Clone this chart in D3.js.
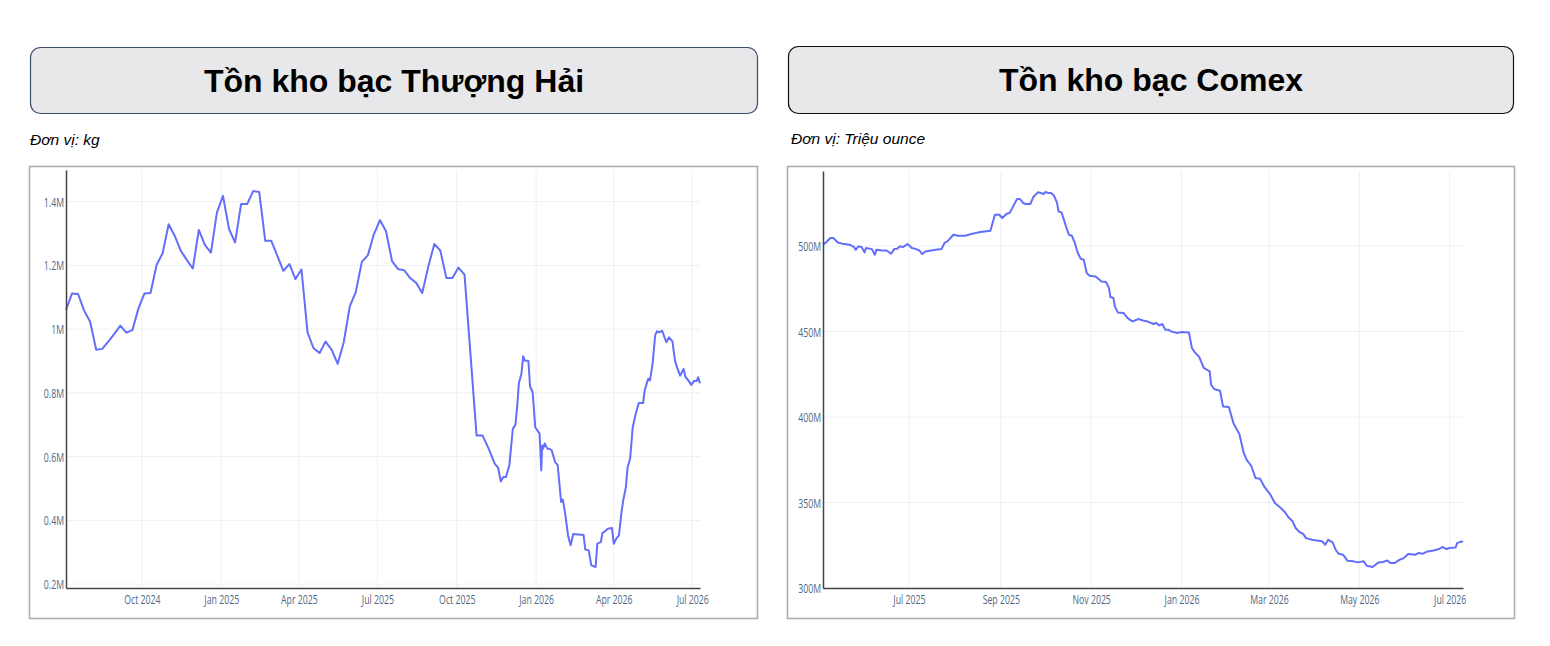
<!DOCTYPE html>
<html><head><meta charset="utf-8">
<script src="https://cdn.jsdelivr.net/npm/d3@7"></script>
<style>
html,body{margin:0;padding:0;background:#fff;}
svg{display:block;}
</style></head><body>
<svg id="c" width="1550" height="646"></svg>
<script>
// ---------------- DATA ----------------
const shTitle = "Tồn kho bạc Thượng Hải";
const shUnit = "Đơn vị: kg";
const shDates = [
"2024-07-05","2024-07-12","2024-07-19","2024-07-26","2024-08-02","2024-08-09","2024-08-16","2024-08-23","2024-08-30",
"2024-09-06","2024-09-13","2024-09-20","2024-09-27","2024-10-04","2024-10-11","2024-10-18","2024-10-25","2024-11-01",
"2024-11-08","2024-11-15","2024-11-22","2024-11-29","2024-12-06","2024-12-13","2024-12-20","2024-12-27","2025-01-03",
"2025-01-10","2025-01-17","2025-01-24","2025-01-31","2025-02-07","2025-02-14","2025-02-21","2025-02-28","2025-03-07",
"2025-03-14","2025-03-21","2025-03-28","2025-04-04","2025-04-11","2025-04-18","2025-04-25","2025-05-02","2025-05-09",
"2025-05-16","2025-05-23","2025-05-30","2025-06-06","2025-06-13","2025-06-20","2025-06-27","2025-07-04","2025-07-11",
"2025-07-18","2025-07-25","2025-08-01","2025-08-08","2025-08-15","2025-08-22","2025-08-29","2025-09-05","2025-09-12",
"2025-09-19","2025-09-26","2025-10-03","2025-10-10",
"2025-10-24","2025-10-31","2025-11-07","2025-11-14","2025-11-18","2025-11-21","2025-11-24","2025-11-27","2025-12-01",
"2025-12-05","2025-12-08","2025-12-10","2025-12-12","2025-12-15","2025-12-17","2025-12-19","2025-12-23","2025-12-25",
"2025-12-28","2025-12-31","2026-01-05","2026-01-07","2026-01-08","2026-01-09","2026-01-11","2026-01-14","2026-01-16",
"2026-01-19","2026-01-23","2026-01-26","2026-01-30","2026-02-01","2026-02-04","2026-02-07","2026-02-10","2026-02-13",
"2026-02-25","2026-02-27","2026-03-03","2026-03-06","2026-03-11","2026-03-13","2026-03-17","2026-03-19","2026-03-21",
"2026-03-25","2026-03-30","2026-04-01","2026-04-04","2026-04-07","2026-04-10","2026-04-12","2026-04-15","2026-04-17",
"2026-04-20","2026-04-23","2026-04-26","2026-04-30","2026-05-05","2026-05-07","2026-05-11","2026-05-13","2026-05-16",
"2026-05-19","2026-05-21","2026-05-24","2026-05-27","2026-06-01","2026-06-04","2026-06-08","2026-06-11","2026-06-14",
"2026-06-17","2026-06-21","2026-06-23","2026-06-27","2026-06-30","2026-07-03","2026-07-06","2026-07-08","2026-07-10"
];
const shValues = [
1060000,1112000,1110000,1058000,1023000,935000,938000,961000,985000,
1011000,989000,997000,1065000,1112000,1113000,1201000,1238000,1329000,
1293000,1246000,1217000,1190000,1311000,1264000,1240000,1366000,1418000,
1314000,1272000,1392000,1392000,1433000,1430000,1277000,1277000,1230000,
1183000,1204000,1157000,1187000,990000,940000,925000,961000,935000,
891000,959000,1071000,1117000,1211000,1232000,1298000,1342000,1307000,
1213000,1188000,1185000,1160000,1145000,1113000,1196000,1267000,1246000,
1160000,1160000,1193000,1171000,
666000,666000,625000,578000,565000,522000,536000,536000,573000,
687000,700000,755000,830000,860000,915000,901000,901000,820000,
802000,692000,672000,557000,635000,625000,641000,625000,625000,
620000,583000,573000,458000,465000,416000,353000,322000,357000,
354000,309000,306000,259000,254000,327000,332000,361000,364000,
374000,376000,327000,343000,353000,426000,463000,503000,565000,
594000,692000,729000,768000,768000,810000,844000,839000,891000,
980000,993000,990000,995000,959000,974000,962000,901000,875000,
854000,875000,851000,837000,825000,837000,837000,849000,830000
];
const shXTicks = ["2024-10-01","2025-01-01","2025-04-01","2025-07-01","2025-10-01","2026-01-01","2026-04-01","2026-07-01"];
const shXTickLabels = ["Oct 2024","Jan 2025","Apr 2025","Jul 2025","Oct 2025","Jan 2026","Apr 2026","Jul 2026"];
const shYTicks = [200000,400000,600000,800000,1000000,1200000,1400000];
const shYTickLabels = ["0.2M","0.4M","0.6M","0.8M","1M","1.2M","1.4M"];

const cmTitle = "Tồn kho bạc Comex";
const cmUnit = "Đơn vị: Triệu ounce";
const cmDates = [
"2025-05-04","2025-05-06","2025-05-09","2025-05-11","2025-05-14","2025-05-17","2025-05-22","2025-05-25","2025-05-26",
"2025-05-28","2025-05-30","2025-06-01","2025-06-02","2025-06-06","2025-06-08","2025-06-09","2025-06-13","2025-06-16",
"2025-06-19","2025-06-21","2025-06-23","2025-06-25","2025-06-27","2025-06-30","2025-07-03","2025-07-06","2025-07-08",
"2025-07-10","2025-07-12","2025-07-16","2025-07-19","2025-07-23","2025-07-25","2025-07-27","2025-07-31","2025-08-03",
"2025-08-08","2025-08-12","2025-08-17","2025-08-21","2025-08-25","2025-08-28","2025-08-31","2025-09-02","2025-09-05",
"2025-09-07","2025-09-09","2025-09-12","2025-09-14","2025-09-16","2025-09-18","2025-09-21","2025-09-23","2025-09-26",
"2025-09-28","2025-09-30","2025-10-01","2025-10-03","2025-10-05","2025-10-07","2025-10-09","2025-10-10","2025-10-12",
"2025-10-14","2025-10-15","2025-10-17","2025-10-19","2025-10-21","2025-10-23","2025-10-25","2025-10-27","2025-10-29",
"2025-10-31","2025-11-04","2025-11-06","2025-11-08","2025-11-11","2025-11-13","2025-11-14","2025-11-16","2025-11-17",
"2025-11-19","2025-11-23","2025-11-25","2025-11-27","2025-11-29","2025-12-03","2025-12-06","2025-12-09","2025-12-13",
"2025-12-15","2025-12-17","2025-12-19","2025-12-21","2025-12-23","2025-12-25","2025-12-29","2026-01-01","2026-01-06",
"2026-01-08","2026-01-10","2026-01-13","2026-01-16","2026-01-20","2026-01-21","2026-01-23","2026-01-27","2026-01-29",
"2026-02-02","2026-02-05","2026-02-08","2026-02-09","2026-02-12","2026-02-14","2026-02-17","2026-02-20","2026-02-23",
"2026-02-26","2026-03-02","2026-03-05","2026-03-09","2026-03-12","2026-03-14","2026-03-17","2026-03-19","2026-03-22",
"2026-03-24","2026-03-26","2026-03-30","2026-04-02","2026-04-06","2026-04-08","2026-04-10","2026-04-13","2026-04-15",
"2026-04-17","2026-04-20","2026-04-23","2026-04-27","2026-04-30","2026-05-04","2026-05-06","2026-05-10","2026-05-14",
"2026-05-17","2026-05-20","2026-05-22","2026-05-25","2026-05-28","2026-05-31","2026-06-03","2026-06-08","2026-06-10",
"2026-06-13","2026-06-16","2026-06-20","2026-06-24","2026-06-26","2026-06-29","2026-07-01","2026-07-05","2026-07-06",
"2026-07-09","2026-07-10"
];
const cmValues = [
500.8,502.1,504.7,504.7,502.1,501.4,500.8,499.4,497.8,
499.8,499.4,496.3,498.8,498.2,494.9,497.8,497.4,497.4,
495.5,498.2,498.4,499.8,499.4,501.2,498.8,498.2,497.4,
495.3,496.8,497.4,497.8,498.2,501.8,502.7,506.6,506.0,
506.0,507.0,508.0,508.5,509.0,518.3,518.3,516.4,518.9,
519.3,522.6,527.5,527.5,525.2,524.6,524.6,528.7,531.4,
531.0,530.4,531.6,531.0,531.0,529.4,525.2,520.2,519.7,
514.4,511.5,506.6,506.0,501.8,495.9,492.6,492.0,484.2,
482.6,482.2,480.7,479.3,479.0,475.5,470.2,469.6,464.7,
461.2,460.8,458.5,456.9,455.9,457.3,456.5,455.9,454.4,
455.0,453.6,454.4,451.1,451.1,450.1,449.1,449.7,449.5,
440.4,437.8,435.1,428.7,426.7,418.9,416.4,415.4,406.2,
405.8,396.5,391.6,390.2,379.0,375.0,371.5,364.3,363.9,
359.1,354.6,349.7,346.8,344.2,341.5,339.0,335.1,332.5,
331.8,329.2,328.2,327.8,327.3,325.3,328.2,326.7,322.4,
320.1,319.5,316.0,315.6,315.0,315.6,313.0,312.3,315.0,
315.2,316.1,314.6,314.6,316.5,317.5,319.9,319.5,320.5,
320.1,321.4,322.0,322.8,324.0,322.8,323.4,323.7,326.3,
327.3,326.9
];
const cmXTicks = ["2025-07-01","2025-09-01","2025-11-01","2026-01-01","2026-03-01","2026-05-01","2026-07-01"];
const cmXTickLabels = ["Jul 2025","Sep 2025","Nov 2025","Jan 2026","Mar 2026","May 2026","Jul 2026"];
const cmYTicks = [300,350,400,450,500];
const cmYTickLabels = ["300M","350M","400M","450M","500M"];

// ---------------- DRAW ----------------
const svg = d3.select("#c");
svg.append("rect").attr("width",1550).attr("height",646).attr("fill","#fff");
const parse = d3.utcParse("%Y-%m-%d");
const SX = 0.7; // horizontal squeeze of the tick labels

function panel(o){
  // title box
  svg.append("rect").attr("x",o.box[0]+0.5).attr("y",o.box[1]+0.5)
    .attr("width",o.box[2]).attr("height",o.box[3]).attr("rx",10).attr("ry",10)
    .attr("fill","#e8e7e9").attr("stroke",o.boxStroke).attr("stroke-width",1.2);
  svg.append("text").attr("x",o.box[0]+o.box[2]/2+0.5).attr("y",o.box[1]+o.box[3]/2+11.5)
    .attr("text-anchor","middle").attr("font-family","Liberation Sans, Arial, sans-serif")
    .attr("font-weight","bold").attr("font-size",32).attr("fill","#000").text(o.title);
  // unit
  svg.append("text").attr("x",o.unitPos[0]).attr("y",o.unitPos[1])
    .attr("font-family","Liberation Sans, Arial, sans-serif").attr("font-style","italic")
    .attr("font-size",15.5).attr("fill","#000").text(o.unit);
  // frame
  svg.append("rect").attr("x",o.frame[0]+0.5).attr("y",o.frame[1]+0.5)
    .attr("width",o.frame[2]).attr("height",o.frame[3])
    .attr("fill","#fff").attr("stroke","#a9a9a9").attr("stroke-width",1.5);

  const [x0,y0,x1,y1] = o.plot;
  const dates = o.dates.map(parse);
  const x = d3.scaleUtc().domain(d3.extent(dates)).range([x0,x1]);
  const [mn,mx] = d3.extent(o.values);
  const pad = (mx-mn)*0.056;
  const y = d3.scaleLinear().domain([mn-pad,mx+pad]).range([y1,y0]);

  const g = svg.append("g");
  // grid
  g.selectAll(".gx").data(o.xTicks.map(parse)).join("line")
    .attr("x1",d=>x(d)).attr("x2",d=>x(d)).attr("y1",y0).attr("y2",y1)
    .attr("stroke","#ebf0f8").attr("stroke-width",1);
  g.selectAll(".gy").data(o.yTicks).join("line")
    .attr("x1",x0).attr("x2",x1).attr("y1",d=>y(d)).attr("y2",d=>y(d))
    .attr("stroke","#ebf0f8").attr("stroke-width",1);

  // line
  const line = d3.line().x((d,i)=>x(dates[i])).y(d=>y(d));
  g.append("path").datum(o.values).attr("d",line)
    .attr("fill","none").attr("stroke","#636efa").attr("stroke-width",2)
    .attr("stroke-linejoin","round");

  // axes
  const xl = new Map(o.xTicks.map((t,i)=>[+parse(t),o.xTickLabels[i]]));
  const ax = svg.append("g").attr("transform",`translate(0,${y1})`)
    .call(d3.axisBottom(x).tickValues(o.xTicks.map(parse)).tickSize(0).tickSizeOuter(0)
      .tickFormat(d=>xl.get(+d)));
  const yl = new Map(o.yTicks.map((t,i)=>[t,o.yTickLabels[i]]));
  const ay = svg.append("g").attr("transform",`translate(${x0},0)`)
    .call(d3.axisLeft(y).tickValues(o.yTicks).tickSize(0).tickSizeOuter(0)
      .tickFormat(d=>yl.get(d)));
  [ax,ay].forEach(a=>{
    a.select(".domain").attr("stroke","#444").attr("stroke-width",1.5);
    a.selectAll("text").attr("font-family","Open Sans, sans-serif").attr("font-size",12.5)
      .attr("fill","#506784");
  });
  ax.selectAll("text").attr("y",16.3).attr("dy",0).attr("transform",`scale(${SX},1)`);
  ay.selectAll("text").attr("x",-2/SX).attr("dy","0.36em").attr("transform",`scale(${SX},1)`);
}

panel({title:shTitle, unit:shUnit, dates:shDates, values:shValues,
  xTicks:shXTicks, xTickLabels:shXTickLabels, yTicks:shYTicks, yTickLabels:shYTickLabels,
  box:[30,47,727,66], boxStroke:"#3d4b6e", unitPos:[30,145],
  frame:[29,166,728,452], plot:[66,170,700,588]});

panel({title:cmTitle, unit:cmUnit, dates:cmDates, values:cmValues,
  xTicks:cmXTicks, xTickLabels:cmXTickLabels, yTicks:cmYTicks, yTickLabels:cmYTickLabels,
  box:[788,46,725,67], boxStroke:"#111", unitPos:[791,144],
  frame:[787,166,727,452], plot:[823,171,1463,588]});
</script>
</body></html>
